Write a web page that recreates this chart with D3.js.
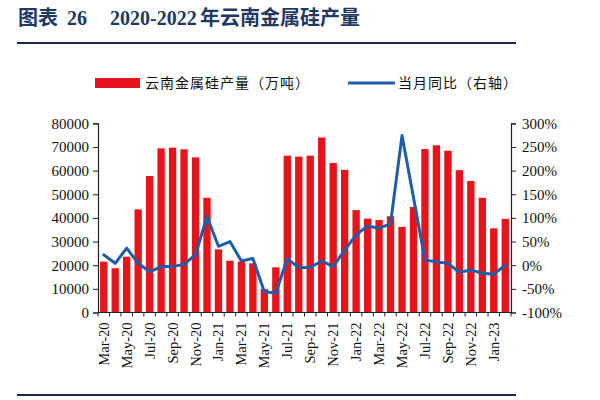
<!DOCTYPE html>
<html><head><meta charset="utf-8">
<script src="https://cdn.jsdelivr.net/npm/d3@7"></script>
<style>body{margin:0;background:#fff}svg{display:block}</style>
</head><body>
<svg id="c" width="600" height="400"></svg>
<script>
const months = ["Mar-20","Apr-20","May-20","Jun-20","Jul-20","Aug-20","Sep-20","Oct-20","Nov-20","Dec-20","Jan-21","Feb-21",
"Mar-21","Apr-21","May-21","Jun-21","Jul-21","Aug-21","Sep-21","Oct-21","Nov-21","Dec-21","Jan-22","Feb-22",
"Mar-22","Apr-22","May-22","Jun-22","Jul-22","Aug-22","Sep-22","Oct-22","Nov-22","Dec-22","Jan-23","Feb-23"];
const production = [21500,18700,23600,43600,57700,69400,69700,69000,65600,48500,26700,21900,
21500,20800,9900,19100,66300,65900,66300,74000,63200,60300,43300,39700,
39100,40700,36200,44600,69100,70700,68400,60200,55600,48500,35600,39600];
const yoy = [22,4,36,4,-14,-3,-3,2,22,103,40,50,
9,14,-56,-59,14,-5,-5,9,-3,32,64,83,
78,88,274,143,11,7,4,-15,-10,-17,-19,0];
const leftTicks = [0,10000,20000,30000,40000,50000,60000,70000,80000];
const rightTicks = [-100,-50,0,50,100,150,200,250,300];
const seriesNames = ["云南金属硅产量（万吨）","当月同比（右轴）"];
const titleParts = ["图表","26","2020-2022","年云南金属硅产量"];

const svg = d3.select("#c");
const serif = "'Liberation Serif','Times New Roman',serif";
const cjk = "'Noto Sans CJK SC','Noto Sans',sans-serif";
const navy = "#1f3864";
const red = "#e8141c";
const blue = "#1f5da6";

// title
const t = svg.append("text").attr("y",25).attr("fill",navy).attr("font-weight","bold").attr("font-size",20);
t.append("tspan").attr("x",18).attr("font-family",cjk).text(titleParts[0]);
t.append("tspan").attr("x",67).attr("font-family",serif).text(titleParts[1]);
t.append("tspan").attr("x",110).attr("font-family",serif).text(titleParts[2]);
t.append("tspan").attr("x",200).attr("font-family",cjk).text(titleParts[3]);
svg.append("rect").attr("x",17).attr("y",42).attr("width",499).attr("height",2).attr("fill","#1b2a47");
svg.append("rect").attr("x",17).attr("y",394).attr("width",499).attr("height",2).attr("fill","#1b2a47");

const x = d3.scaleBand().domain(months).range([98,511]).paddingInner(0.36).paddingOuter(0.18);
const yL = d3.scaleLinear().domain([0,80000]).range([312.5,123.3]);
const yR = d3.scaleLinear().domain([-100,300]).range([312.5,123.3]);

// bars
svg.append("g").selectAll("rect").data(production).join("rect")
  .attr("x",(d,i)=>x(months[i])).attr("width",x.bandwidth())
  .attr("y",d=>yL(d)).attr("height",d=>yL(0)-yL(d)).attr("fill",red);

// line
const line = d3.line().x((d,i)=>x(months[i])+x.bandwidth()/2).y(d=>yR(d));
svg.append("path").datum(yoy).attr("d",line).attr("fill","none").attr("stroke",blue)
  .attr("stroke-width",3).attr("stroke-linejoin","round").attr("stroke-linecap","round");

// axes
const axisColor = "#222";
const gL = svg.append("g").attr("transform","translate(98,0)")
  .call(d3.axisLeft(yL).tickValues(leftTicks).tickSize(5).tickPadding(4).tickFormat(d3.format("d")));
const gR = svg.append("g").attr("transform","translate(511,0)")
  .call(d3.axisRight(yR).tickValues(rightTicks).tickSize(5).tickPadding(6).tickFormat(d=>d+"%"));
[gL,gR].forEach(g=>{
  g.select(".domain").attr("stroke",axisColor).attr("stroke-width",1.2);
  g.selectAll(".tick line").attr("stroke",axisColor);
  g.selectAll("text").attr("font-family",serif).attr("font-size",15).attr("fill","#111");
});

// x axis
const gX = svg.append("g").attr("transform","translate(0,312.5)");
gX.append("line").attr("x1",x.range()[0]).attr("x2",x.range()[1]).attr("stroke",axisColor).attr("stroke-width",1.2);
const step = x.step();
gX.selectAll("line.tk").data(d3.range(months.length+1)).join("line").attr("class","tk")
  .attr("x1",i=>x.range()[0]+i*step).attr("x2",i=>x.range()[0]+i*step)
  .attr("y1",0).attr("y2",4).attr("stroke",axisColor);
gX.selectAll("text").data(months.filter((m,i)=>i%2===0)).join("text")
  .attr("transform",d=>`translate(${x(d)+x.bandwidth()/2+5},10) rotate(-90)`)
  .attr("text-anchor","end").attr("font-family",serif).attr("font-size",14.5).attr("fill","#111")
  .text(d=>d);

// legend
svg.append("rect").attr("x",95).attr("y",78).attr("width",45).attr("height",10).attr("fill",red);
svg.append("text").attr("x",145).attr("y",88).attr("font-family",cjk).attr("font-size",14)
  .attr("letter-spacing",1).attr("fill","#111").text(seriesNames[0]);
svg.append("line").attr("x1",348).attr("x2",395).attr("y1",83).attr("y2",83).attr("stroke",blue).attr("stroke-width",3);
svg.append("text").attr("x",398).attr("y",88).attr("font-family",cjk).attr("font-size",14)
  .attr("letter-spacing",1).attr("fill","#111").text(seriesNames[1]);
</script>
</body></html>
